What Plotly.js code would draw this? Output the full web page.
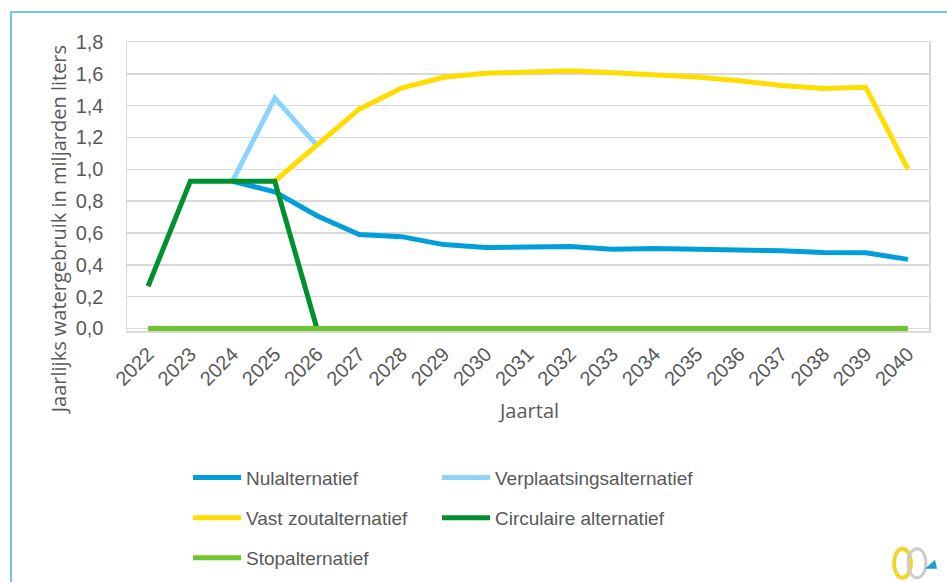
<!DOCTYPE html>
<html>
<head>
<meta charset="utf-8">
<script src="https://cdn.plot.ly/plotly-3.0.1.min.js"></script>
<style>html,body{margin:0;padding:0;background:#fff;}#chart{width:947px;height:582px;}</style>
</head>
<body>
<div id="chart"></div>
<script>
var years = ['2022','2023','2024','2025','2026','2027','2028','2029','2030','2031','2032','2033','2034','2035','2036','2037','2038','2039','2040'];
var nulalternatief = [null, null, 0.925, 0.858, 0.708, 0.590, 0.577, 0.527, 0.508, 0.511, 0.515, 0.497, 0.503, 0.498, 0.494, 0.488, 0.478, 0.476, 0.434];
var verplaatsingsalternatief = [null, null, 0.925, 1.447, 1.15, null, null, null, null, null, null, null, null, null, null, null, null, null, null];
var vastZoutalternatief = [null, null, null, 0.925, 1.15, 1.378, 1.51, 1.578, 1.603, 1.610, 1.620, 1.606, 1.592, 1.580, 1.556, 1.527, 1.508, 1.516, 1.002];
var circulaireAlternatief = [0.265, 0.925, 0.925, 0.925, 0, null, null, null, null, null, null, null, null, null, null, null, null, null, null];
var stopalternatief = [0, 0, 0, 0, 0, 0, 0, 0, 0, 0, 0, 0, 0, 0, 0, 0, 0, 0, 0];

var seriesNames = ['Nulalternatief', 'Verplaatsingsalternatief', 'Vast zoutalternatief', 'Circulaire alternatief', 'Stopalternatief'];
var seriesData = [nulalternatief, verplaatsingsalternatief, vastZoutalternatief, circulaireAlternatief, stopalternatief];
var seriesColors = ['#009FDA', '#8DD3FB', '#FFDD00', '#00902F', '#6CC62E'];
var seriesLegend = ['legend', 'legend2', 'legend3', 'legend4', 'legend5'];

var traces = seriesNames.map(function(n, i) {
  return {
    type: 'scatter', mode: 'lines', name: n, x: years, y: seriesData[i],
    line: {color: seriesColors[i], width: 5}, cliponaxis: false,
    legend: seriesLegend[i], hoverinfo: 'skip'
  };
});

var CW = 947, CH = 582;
var PPU = 159.6;            // pixels per unit on the y axis
var YMIN = -0.016;          // small pad so the line at 0 is not clipped
var L = 127, W = 802, T = 42, ZERO = 328;
var B = ZERO - YMIN * PPU;  // bottom pixel of plot area
var H = B - T;
function px(X){ return (X - L) / W; }
function py(Y){ return (B - Y) / H; }
function cx(X){ return X / CW; }
function cy(Y){ return 1 - Y / CH; }

var tickFont = {family: 'Liberation Sans, Arial, sans-serif', size: 20, color: '#595959'};
var titleFont = {family: 'Open Sans, sans-serif', size: 20, color: '#595959'};

function legendObj(xPix, yPix) {
  return {
    orientation: 'v', xref: 'container', yref: 'container',
    x: cx(xPix), xanchor: 'left', y: cy(yPix), yanchor: 'middle',
    font: {family: 'Liberation Sans, Arial, sans-serif', size: 19, color: '#595959'},
    bgcolor: 'rgba(0,0,0,0)', itemwidth: 48
  };
}

var layout = {
  width: CW, height: CH,
  margin: {l: L, r: CW - L - W, t: T, b: CH - B, autoexpand: false},
  paper_bgcolor: '#fff', plot_bgcolor: '#fff',
  separators: ',.',
  showlegend: true,
  xaxis: {
    type: 'category', categoryorder: 'array', categoryarray: years, range: [-0.5, 18.5],
    tickangle: -45, tickfont: tickFont, showgrid: false, ticklabelstandoff: 2, automargin: false,
    showline: true, linecolor: '#d9d9d9', linewidth: 1.5, mirror: true,
    ticks: '', zeroline: false, fixedrange: true
  },
  yaxis: {
    range: [YMIN, 1.8], dtick: 0.2, tick0: 0, tickformat: '.1f', tickfont: tickFont, automargin: false,
    showgrid: true, gridcolor: '#d9d9d9', gridwidth: 1.5,
    showline: true, linecolor: '#d9d9d9', linewidth: 1.5, mirror: true,
    ticks: '', ticklabelstandoff: 18, zeroline: false, fixedrange: true
  },
  legend: legendObj(188, 477.7),
  legend2: legendObj(437, 477.7),
  legend3: legendObj(188, 518),
  legend4: legendObj(437, 518),
  legend5: legendObj(188, 558),
  annotations: [
    {text: 'Jaarlijks watergebruik in miljarden liters', xref: 'paper', yref: 'paper',
     x: px(58), y: py(230), xanchor: 'center', yanchor: 'middle', textangle: -90,
     showarrow: false, font: titleFont},
    {text: 'Jaartal', xref: 'paper', yref: 'paper', x: px(528), y: py(410),
     xanchor: 'center', yanchor: 'middle', showarrow: false, font: titleFont}
  ],
  shapes: [
    {type: 'path', xref: 'paper', yref: 'paper',
     path: 'M' + px(11) + ',' + py(590) + ' L' + px(11) + ',' + py(12) + ' L' + px(960) + ',' + py(12),
     line: {color: '#4BAEDD', width: 1.5}},
    {type: 'circle', xref: 'paper', yref: 'paper', x0: px(894), x1: px(911), y0: py(577), y1: py(548),
     line: {color: '#F2D52A', width: 4}},
    {type: 'circle', xref: 'paper', yref: 'paper', x0: px(908), x1: px(926), y0: py(577), y1: py(548),
     line: {color: '#CCCCCC', width: 3}},
    {type: 'path', xref: 'paper', yref: 'paper',
     path: 'M' + px(925) + ',' + py(568) + ' L' + px(937) + ',' + py(568) + ' L' + px(935) + ',' + py(559) + ' Z',
     fillcolor: '#1E9AD6', line: {width: 0}}
  ]
};

Plotly.newPlot('chart', traces, layout, {displayModeBar: false, staticPlot: true});
</script>
</body>
</html>
